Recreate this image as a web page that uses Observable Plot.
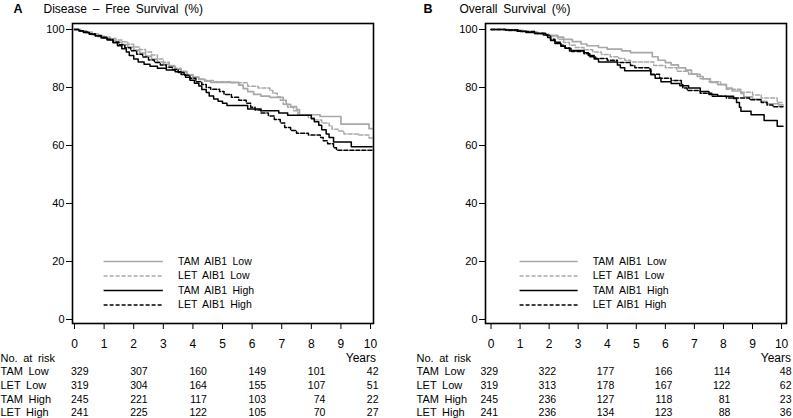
<!DOCTYPE html>
<html>
<head>
<meta charset="utf-8">
<script src="https://cdn.jsdelivr.net/npm/d3@7"></script>
<script src="https://cdn.jsdelivr.net/npm/@observablehq/plot@0.6"></script>
<style>
  html, body { margin: 0; padding: 0; background: white; }
  #wrap { display: flex; flex-direction: row; width: 793px; height: 418px; }
  svg text { word-spacing: 2.5px; }
</style>
</head>
<body>
<div id="wrap"><div id="pa"></div><div id="pb"></div></div>
<script>
// ---------- Data ----------
const seriesLabels = ["TAM AIB1 Low", "LET AIB1 Low", "TAM AIB1 High", "LET AIB1 High"];
const riskGroups = ["TAM Low", "LET Low", "TAM High", "LET High"];
const riskTimes = [0, 2, 4, 6, 8, 10];
const yTicks = [0, 20, 40, 60, 80, 100];
const xTicks = [0, 1, 2, 3, 4, 5, 6, 7, 8, 9, 10];

// Panel A: Disease-Free Survival (years, %)
const dfsTamLow = [[0,100],[0.2,99.5],[0.4,98.8],[0.6,98.1],[0.8,97.5],[1.0,97.0],[1.2,96.3],[1.4,95.6],[1.6,94.8],[1.8,93.9],[2.0,92.9],[2.2,91.9],[2.4,90.8],[2.6,89.8],[2.8,88.8],[3.0,88.0],[3.2,87.2],[3.4,86.3],[3.6,85.4],[3.8,84.3],[4.0,83.5],[4.2,82.8],[4.4,82.2],[4.6,81.8],[5.55,80.8],[5.7,79.6],[5.85,78.6],[6.05,77.6],[6.3,77.0],[6.6,76.6],[7.05,75.6],[7.15,74.2],[7.3,73.4],[7.5,72.4],[7.6,70.6],[8.3,70.0],[9.0,67.4],[9.95,65.8],[10.05,65.8]];
const dfsLetLow = [[0,100],[0.2,99.6],[0.4,99.1],[0.6,98.5],[0.8,97.9],[1.0,97.4],[1.2,96.9],[1.4,96.4],[1.6,95.8],[1.8,94.9],[2.0,94.0],[2.2,93.1],[2.4,92.2],[2.6,91.2],[2.8,89.8],[3.0,88.7],[3.2,87.6],[3.4,86.6],[3.6,85.6],[3.8,84.5],[4.0,83.6],[4.2,82.9],[4.4,82.4],[4.7,82.0],[5.3,81.6],[5.85,80.4],[6.2,79.8],[6.6,79.0],[6.7,78.0],[6.85,76.8],[6.95,75.6],[7.05,74.2],[7.2,73.2],[7.4,72.0],[7.55,70.6],[7.9,69.6],[8.1,68.8],[8.35,67.8],[8.6,66.8],[8.7,65.6],[8.9,65.0],[9.1,64.0],[9.6,63.6],[9.95,62.6],[10.05,62.6]];
const dfsTamHigh = [[0,100],[0.15,99.5],[0.3,99.0],[0.5,98.4],[0.7,97.8],[0.9,97.1],[1.1,96.4],[1.3,95.4],[1.45,94.4],[1.6,93.4],[1.75,92.2],[1.85,91.0],[2.0,89.8],[2.15,88.8],[2.35,88.0],[2.55,87.3],[2.8,86.6],[3.1,86.0],[3.4,85.4],[3.6,84.5],[3.75,83.5],[3.9,82.5],[4.05,81.5],[4.2,80.5],[4.3,79.3],[4.45,78.3],[4.55,77.1],[4.7,76.0],[4.85,75.3],[5.0,74.6],[5.15,73.8],[5.85,72.6],[6.3,72.0],[6.9,71.2],[7.2,70.4],[8.0,69.2],[8.1,68.2],[8.25,67.0],[8.35,65.4],[8.5,64.0],[8.6,62.8],[8.75,61.2],[9.35,59.6],[10.05,59.6]];
const dfsLetHigh = [[0,100],[0.15,99.6],[0.3,99.1],[0.5,98.5],[0.7,97.9],[0.9,97.3],[1.1,96.6],[1.3,95.7],[1.5,94.7],[1.7,93.7],[1.9,92.7],[2.1,91.5],[2.3,90.5],[2.5,89.5],[2.7,88.6],[2.9,87.8],[3.1,87.0],[3.3,86.2],[3.5,85.2],[3.7,84.2],[3.9,83.2],[4.1,82.0],[4.3,81.0],[4.45,80.0],[4.6,79.4],[4.9,78.6],[5.05,77.6],[5.3,76.6],[5.55,75.6],[5.8,74.6],[5.95,73.2],[6.1,72.2],[6.3,71.2],[6.55,70.2],[6.75,69.0],[6.95,67.8],[7.1,66.2],[7.3,65.2],[7.5,64.2],[7.9,63.6],[8.3,62.8],[8.4,61.6],[8.55,60.6],[8.75,59.2],[8.85,58.4],[10.05,58.4]];

// Panel B: Overall Survival (years, %)
const osTamLow = [[0,100],[0.6,99.7],[1.1,99.3],[1.5,98.6],[1.9,98.0],[2.3,97.4],[2.5,96.6],[2.8,95.8],[3.1,95.0],[3.3,94.4],[3.7,93.8],[4.0,93.2],[4.5,92.6],[4.8,92.0],[5.55,90.6],[5.75,89.4],[6.0,88.6],[6.2,87.8],[6.45,86.8],[6.7,86.0],[6.9,84.6],[7.1,83.8],[7.3,83.0],[7.55,81.8],[7.8,81.0],[8.1,79.8],[8.3,78.8],[8.6,78.0],[8.7,76.8],[9.0,76.0],[9.3,75.2],[9.5,74.4],[9.9,74.0],[10.05,74.0]];
const osLetLow = [[0,100],[0.6,99.6],[1.2,99.1],[1.6,98.4],[2.0,97.6],[2.3,96.6],[2.5,95.5],[2.7,94.6],[2.9,93.8],[3.2,93.0],[3.5,92.2],[3.8,91.4],[4.1,90.6],[4.4,90.0],[4.6,89.4],[4.8,88.8],[5.6,87.6],[6.0,86.8],[6.4,85.6],[6.8,84.6],[7.2,83.0],[7.5,82.0],[7.9,81.0],[8.1,79.4],[8.6,78.4],[9.0,77.4],[9.3,76.4],[9.85,74.8],[10.05,74.8]];
const osTamHigh = [[0,100],[0.5,99.8],[0.9,99.4],[1.2,99.0],[1.5,98.6],[1.8,98.1],[1.95,97.2],[2.05,96.2],[2.2,95.2],[2.4,94.2],[2.55,93.5],[2.75,92.8],[3.2,92.0],[3.35,91.0],[3.55,89.8],[3.7,88.8],[4.35,87.8],[4.45,86.8],[4.6,85.8],[5.5,84.4],[5.65,83.2],[5.85,82.0],[6.2,81.4],[6.5,80.6],[6.8,79.8],[7.2,78.6],[7.5,77.6],[7.8,77.0],[8.35,76.2],[8.45,74.8],[8.55,73.2],[8.6,71.8],[8.95,70.6],[9.4,68.6],[9.85,66.6],[10.05,66.6]];
const osLetHigh = [[0,100],[0.5,99.8],[1.0,99.3],[1.5,98.7],[1.9,98.0],[2.05,96.6],[2.2,95.6],[2.4,94.6],[2.55,93.6],[2.7,92.4],[3.2,91.6],[3.4,90.6],[3.6,90.0],[4.0,89.4],[4.35,88.6],[4.8,87.6],[4.95,86.8],[5.45,86.4],[5.5,84.6],[5.8,83.2],[6.2,82.4],[6.55,81.0],[6.6,79.8],[6.75,79.0],[7.2,78.0],[7.6,77.0],[8.1,76.4],[8.9,75.8],[9.3,74.8],[9.5,74.0],[9.7,73.4],[10.05,73.4]];

// Numbers at risk
const dfsRisk = [[329,307,160,149,101,42],[319,304,164,155,107,51],[245,221,117,103,74,22],[241,225,122,105,70,27]];
const osRisk = [[329,322,177,166,114,48],[319,313,178,167,122,62],[245,236,127,118,81,23],[241,236,134,123,88,36]];

// ---------- Styles ----------
const lineStyles = [
  {stroke: "#a8a8a8", strokeWidth: 1.7, strokeDasharray: null},
  {stroke: "#a8a8a8", strokeWidth: 1.5, strokeDasharray: "4,2"},
  {stroke: "#000000", strokeWidth: 1.5, strokeDasharray: null},
  {stroke: "#000000", strokeWidth: 1.5, strokeDasharray: "4,2"}
];

function toRows(arr) { return arr.map(([t, v]) => ({t, v})); }

function makePanel(cfg) {
  const marks = [];
  cfg.series.forEach((s, i) => {
    const st = lineStyles[i];
    const o = {x: "t", y: "v", curve: "step-after", stroke: st.stroke, strokeWidth: st.strokeWidth};
    if (st.strokeDasharray) o.strokeDasharray = st.strokeDasharray;
    marks.push(Plot.line(toRows(s), o));
  });
  // legend (in data coordinates, as in the original)
  seriesLabels.forEach((lab, i) => {
    const st = lineStyles[i];
    const o = {x1: () => 1, x2: () => 3, y: d => d, stroke: st.stroke, strokeWidth: st.strokeWidth};
    if (st.strokeDasharray) o.strokeDasharray = st.strokeDasharray;
    marks.push(Plot.ruleY([20 - 5 * i], o));
  });
  marks.push(Plot.text(seriesLabels.map((label, i) => ({label, i})), {
    x: () => 3.5, y: d => 20 - 5 * d.i, text: "label", textAnchor: "start", fontSize: 10.5, fill: "black"
  }));
  marks.push(Plot.frame({stroke: "black", strokeWidth: 1.6}));
  marks.push(Plot.axisY({ticks: yTicks, tickSize: 6, tickPadding: 2, fontSize: 11, stroke: "black", label: null}));
  marks.push(Plot.axisX({ticks: xTicks, tickSize: 6, tickFormat: () => "", stroke: "black", label: null}));
  marks.push(Plot.text(xTicks, {x: d => d, frameAnchor: "bottom", dy: 24, lineAnchor: "bottom", text: d => String(d), fontSize: 12, fill: "black"}));
  // titles
  marks.push(Plot.text([cfg.letter], {frameAnchor: "top-left", dx: cfg.letterDx, dy: -11, lineAnchor: "bottom", text: d => d, fontWeight: "bold", fontSize: 12.5, textAnchor: "start", fill: "black"}));
  marks.push(Plot.text([cfg.title], {frameAnchor: "top-left", dx: cfg.titleDx, dy: -11, lineAnchor: "bottom", text: d => d, fontSize: 12, textAnchor: "start", fill: "black"}));
  // risk table header (baselines)
  marks.push(Plot.text(["No. at risk"], {frameAnchor: "bottom-left", dx: cfg.labelDx, dy: 38, lineAnchor: "bottom", text: d => d, fontSize: 11, textAnchor: "start", fill: "black"}));
  marks.push(Plot.text(["Years"], {frameAnchor: "bottom-right", dx: cfg.yearsDx, dy: 38.5, lineAnchor: "bottom", text: d => d, fontSize: 12, textAnchor: "end", fill: "black"}));
  riskGroups.forEach((g, r) => {
    const rows = riskTimes.map((t, j) => ({t, n: cfg.risk[r][j]}));
    const dy = 51.5 + 13.8 * r;
    marks.push(Plot.text([g], {frameAnchor: "bottom-left", dx: cfg.labelDx, dy, lineAnchor: "bottom", text: d => d, fontSize: 11, textAnchor: "start", fill: "black"}));
    marks.push(Plot.text(rows.filter(d => d.t < 10), {x: "t", frameAnchor: "bottom", dx: cfg.numDx, dy, lineAnchor: "bottom", text: d => String(d.n), fontSize: 10.5, textAnchor: "end", fill: "black"}));
    marks.push(Plot.text(rows.filter(d => d.t === 10), {x: "t", frameAnchor: "bottom", dx: cfg.lastDx, dy, lineAnchor: "bottom", text: d => String(d.n), fontSize: 10.5, textAnchor: "end", fill: "black"}));
  });
  return Plot.plot({
    width: cfg.width, height: 418,
    marginTop: 23, marginBottom: 95, marginLeft: cfg.ml, marginRight: cfg.mr,
    x: {domain: cfg.xdom, label: null},
    y: {domain: [-1.38, 102.07], label: null},
    style: {fontFamily: "'Liberation Sans', Arial, sans-serif", background: "white", overflow: "visible", color: "black"},
    marks
  });
}

const panelA = makePanel({
  width: 400, ml: 72, mr: 27, xdom: [-0.068, 10.1],
  series: [dfsTamLow, dfsLetLow, dfsTamHigh, dfsLetHigh],
  risk: dfsRisk, letter: "A", title: "Disease – Free Survival (%)",
  letterDx: -59, titleDx: -29, labelDx: -72, yearsDx: 2.5, numDx: 14, lastDx: 8
});
const panelB = makePanel({
  width: 393, ml: 85, mr: 7, xdom: [-0.19, 10.17],
  series: [osTamLow, osLetLow, osTamHigh, osLetHigh],
  risk: osRisk, letter: "B", title: "Overall Survival (%)",
  letterDx: -62, titleDx: -26, labelDx: -69, yearsDx: 4.5, numDx: 7, lastDx: 10
});
document.getElementById("pa").appendChild(panelA);
document.getElementById("pb").appendChild(panelB);
</script>
</body>
</html>
